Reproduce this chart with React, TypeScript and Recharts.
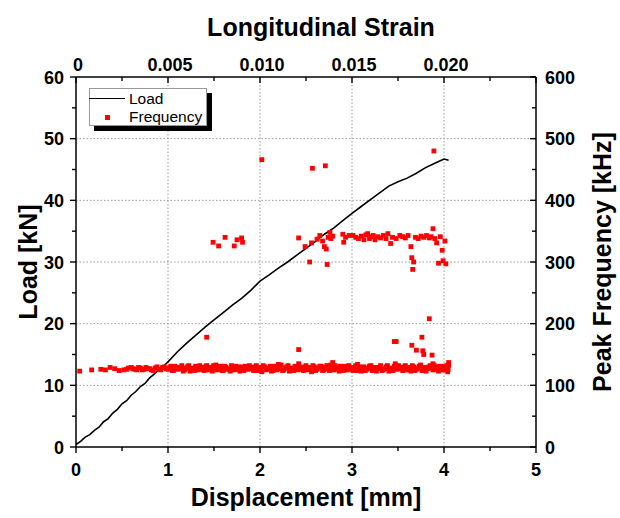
import React from 'react';
import { ComposedChart, Line, Scatter, XAxis, YAxis, ReferenceLine } from 'recharts';

// load curve: displacement [mm] vs load [kN]
const loadCurve: [number, number][] = [
  [0.0, 0.4], [0.05, 0.9], [0.1, 1.6], [0.15, 2.0], [0.2, 2.7], [0.25, 3.2], [0.3, 4.1],
  [0.35, 4.6], [0.4, 5.5], [0.45, 6.1], [0.5, 7.0], [0.55, 7.5], [0.6, 8.4], [0.65, 9.0],
  [0.7, 9.8], [0.75, 10.3], [0.8, 11.2], [0.85, 11.8], [0.9, 12.6], [0.95, 13.1], [1.0, 13.8],
  [1.1, 15.4], [1.2, 16.8], [1.3, 18.1], [1.4, 19.4], [1.5, 20.6], [1.6, 21.8], [1.7, 23.0],
  [1.8, 24.1], [1.9, 25.4], [2.0, 26.9], [2.1, 27.9], [2.2, 29.0], [2.3, 30.0], [2.4, 31.1],
  [2.5, 32.2], [2.6, 33.3], [2.7, 34.5], [2.8, 35.5], [2.9, 36.7], [3.0, 37.9], [3.1, 39.0],
  [3.2, 40.1], [3.3, 41.2], [3.4, 42.3], [3.5, 43.0], [3.6, 43.6], [3.7, 44.4], [3.8, 45.3],
  [3.9, 46.0], [4.0, 46.7], [4.05, 46.5],
];

// acoustic emission peak frequency [kHz]
const freqEarly: [number, number][] = [
  [0.04, 123], [0.17, 125], [0.27, 126], [0.32, 125], [0.37, 129], [0.42, 127], [0.47, 124],
  [0.52, 125], [0.57, 128], [0.62, 127], [0.66, 125], [0.7, 128], [0.74, 126], [0.78, 127],
  [0.82, 125], [0.86, 128], [0.9, 126], [0.94, 129], [0.98, 127],
  [0.55, 126], [0.6, 129], [0.64, 126], [0.68, 129], [0.72, 125], [0.76, 129], [0.8, 127],
  [0.84, 124], [0.88, 130], [0.92, 125], [0.96, 130],
];

const freqLowBand: [number, number][] = [
  [1.0, 126], [1.03, 131], [1.06, 124], [1.09, 129], [1.12, 127], [1.15, 132], [1.18, 125], [1.21, 130], [1.24, 123], [1.27, 128],
  [1.3, 131], [1.33, 125], [1.36, 129], [1.39, 124], [1.42, 132], [1.45, 127], [1.48, 123], [1.51, 130], [1.54, 126], [1.57, 131],
  [1.6, 124], [1.63, 129], [1.66, 127], [1.69, 132], [1.72, 125], [1.75, 130], [1.78, 123], [1.81, 128], [1.84, 131], [1.87, 126],
  [1.9, 129], [1.93, 124], [1.96, 132], [1.99, 127], [2.02, 122], [2.05, 130], [2.08, 126], [2.11, 131], [2.14, 124], [2.17, 129],
  [2.2, 127], [2.23, 133], [2.26, 125], [2.29, 130], [2.32, 123], [2.35, 128], [2.38, 131], [2.41, 125], [2.44, 129], [2.47, 124],
  [2.5, 132], [2.53, 127], [2.56, 122], [2.59, 130], [2.62, 126], [2.65, 131], [2.68, 124], [2.71, 129], [2.74, 127], [2.77, 133],
  [2.8, 125], [2.83, 130], [2.86, 123], [2.89, 128], [2.92, 131], [2.95, 125], [2.98, 129], [3.01, 124], [3.04, 132], [3.07, 127],
  [3.1, 123], [3.13, 130], [3.16, 126], [3.19, 131], [3.22, 124], [3.25, 129], [3.28, 127], [3.31, 132], [3.34, 125], [3.37, 130],
  [3.4, 123], [3.43, 128], [3.46, 131], [3.49, 126], [3.52, 129], [3.55, 124], [3.58, 132], [3.61, 127], [3.64, 123], [3.67, 130],
  [3.7, 126], [3.73, 131], [3.76, 124], [3.79, 129], [3.82, 127], [3.85, 132], [3.88, 125], [3.91, 130], [3.94, 123], [3.97, 128],
  [4.0, 131], [4.02, 125], [4.04, 129], [4.05, 133],
  [1.52, 133], [2.2, 134], [2.42, 135], [2.79, 137], [3.06, 134], [3.47, 135], [3.88, 135], [4.05, 137], [4.04, 122],
];

const freqLowBand2: [number, number][] = [
  [1.015, 128], [1.045, 124], [1.075, 131], [1.105, 126], [1.135, 129], [1.165, 123], [1.195, 128], [1.225, 132], [1.255, 126], [1.285, 124],
  [1.315, 128], [1.345, 132], [1.375, 126], [1.405, 130], [1.435, 125], [1.465, 129], [1.495, 132], [1.525, 125], [1.555, 129], [1.585, 124],
  [1.615, 131], [1.645, 126], [1.675, 123], [1.705, 128], [1.735, 131], [1.765, 126], [1.795, 130], [1.825, 124], [1.855, 128], [1.885, 132],
  [1.915, 127], [1.945, 130], [1.975, 124], [2.005, 129], [2.035, 132], [2.065, 125], [2.095, 128], [2.125, 123], [2.155, 131], [2.185, 125],
  [2.215, 130], [2.245, 124], [2.275, 128], [2.305, 132], [2.335, 126], [2.365, 124], [2.395, 127], [2.425, 131], [2.455, 126], [2.485, 130],
  [2.515, 125], [2.545, 129], [2.575, 132], [2.605, 124], [2.635, 128], [2.665, 131], [2.695, 125], [2.725, 132], [2.755, 124], [2.785, 128],
  [2.815, 132], [2.845, 126], [2.875, 131], [2.905, 124], [2.935, 127], [2.965, 132], [2.995, 126], [3.025, 129], [3.055, 124], [3.085, 130],
  [3.115, 127], [3.145, 124], [3.175, 128], [3.205, 132], [3.235, 126], [3.265, 123], [3.295, 129], [3.325, 124], [3.355, 127], [3.385, 132],
  [3.415, 126], [3.445, 124], [3.475, 128], [3.505, 132], [3.535, 127], [3.565, 130], [3.595, 125], [3.625, 129], [3.655, 132], [3.685, 124],
  [3.715, 128], [3.745, 133], [3.775, 127], [3.805, 123], [3.835, 130], [3.865, 128], [3.895, 132], [3.925, 126], [3.955, 131], [3.985, 125],
  [4.01, 128], [4.03, 132], [4.045, 126],
];

const freqUpperBand: [number, number][] = [
  [1.49, 332], [1.55, 326], [1.62, 340], [1.72, 326], [1.75, 336], [1.8, 339], [1.81, 332],
  [2.42, 339], [2.49, 325], [2.54, 300], [2.56, 331], [2.62, 337], [2.65, 343], [2.68, 334],
  [2.7, 325], [2.72, 321], [2.73, 296], [2.74, 340], [2.76, 348], [2.77, 338], [2.79, 342],
  [2.9, 345], [2.91, 332], [2.93, 340], [2.97, 343], [3.01, 343], [3.04, 340], [3.07, 338],
  [3.1, 342], [3.13, 336], [3.15, 344], [3.17, 346], [3.19, 338], [3.21, 341], [3.23, 343],
  [3.25, 336], [3.28, 341], [3.31, 339], [3.34, 343], [3.37, 338], [3.39, 346], [3.42, 330],
  [3.44, 340], [3.48, 338], [3.52, 343], [3.55, 341], [3.58, 339], [3.61, 343], [3.64, 325],
  [3.65, 307], [3.67, 300], [3.66, 288], [3.69, 340], [3.72, 338], [3.75, 342], [3.78, 340],
  [3.81, 343], [3.84, 339], [3.88, 354], [3.86, 341], [3.9, 338], [3.92, 331], [3.94, 298],
  [3.96, 341], [3.98, 319], [3.99, 302], [4.01, 334], [4.02, 297],
];

const freqOutliers: [number, number][] = [
  [2.02, 466], [2.57, 452], [2.71, 456], [3.89, 480],
  [1.42, 178], [2.42, 158], [3.46, 171], [3.48, 171], [3.65, 165], [3.7, 157],
  [3.76, 178], [3.77, 156], [3.78, 150], [3.84, 208], [3.87, 149],
];

const dispTicks = [0, 0.5, 1, 1.5, 2, 2.5, 3, 3.5, 4, 4.5, 5];
const strainLabels = ['0', '0.005', '0.010', '0.015', '0.020'];
const loadTicks = [0, 5, 10, 15, 20, 25, 30, 35, 40, 45, 50, 55, 60];
const freqTicks = [0, 50, 100, 150, 200, 250, 300, 350, 400, 450, 500, 550, 600];
const gridX = [1, 2, 3, 4];
const gridY = [10, 20, 30, 40, 50];

const loadData = loadCurve.map(([x, load]) => ({ x, load }));
const freqData = [...freqEarly, ...freqLowBand, ...freqLowBand2, ...freqUpperBand, ...freqOutliers].map(
  ([x, f]) => ({ x, f }),
);

const FONT = '"Liberation Sans", Arial, sans-serif';
const tickText = { fontFamily: FONT, fontWeight: 'bold' as const, fontSize: 18, fill: '#000' };
const titleText = { fontFamily: FONT, fontWeight: 'bold' as const, fontSize: 25, fill: '#000' };

const BottomTick = (props: any) => {
  const { x, y, payload } = props;
  const major = Number.isInteger(payload.value);
  return (
    <g>
      <path d={`M${x},${y}V${y + (major ? 6 : 4)}`} stroke="#000" strokeWidth={1.4} fill="none" />
      {major && (
        <text x={x} y={y + 29} textAnchor="middle" style={tickText}>
          {payload.value}
        </text>
      )}
    </g>
  );
};

const TopTick = (props: any) => {
  const { x, y, payload } = props;
  const major = Number.isInteger(payload.value);
  const label = major ? strainLabels[payload.value] : undefined;
  return (
    <g>
      <path d={`M${x},${y}V${y + (major ? 6 : 4)}`} stroke="#000" strokeWidth={1.4} fill="none" />
      {label && (
        <text x={x + 2} y={y - 6} textAnchor="middle" style={tickText}>
          {label}
        </text>
      )}
    </g>
  );
};

const LeftTick = (props: any) => {
  const { x, y, payload } = props;
  const major = payload.value % 10 === 0;
  return (
    <g>
      <path d={`M${x - (major ? 6 : 4)},${y}H${x}`} stroke="#000" strokeWidth={1.4} fill="none" />
      {major && (
        <text x={x - 12} y={y + 6.5} textAnchor="end" style={tickText}>
          {payload.value}
        </text>
      )}
    </g>
  );
};

const RightTick = (props: any) => {
  const { x, y, payload } = props;
  const major = payload.value % 100 === 0;
  return (
    <g>
      <path d={`M${x - (major ? 6 : 4)},${y}H${x}`} stroke="#000" strokeWidth={1.4} fill="none" />
      {major && (
        <text x={x + 9} y={y + 6.5} textAnchor="start" style={tickText}>
          {payload.value}
        </text>
      )}
    </g>
  );
};

const Square = (props: any) => {
  const { cx, cy } = props;
  return <rect x={cx - 2.4} y={cy - 2.4} width={4.8} height={4.8} fill="#ff0000" />;
};

const ChartLegend = () => (
  <div
    style={{
      position: 'absolute',
      left: 89,
      top: 88,
      width: 116,
      height: 36,
      background: '#fff',
      border: '1px solid #999',
      boxShadow: '5px 5px 0 #000',
      fontFamily: FONT,
      fontSize: 15.5,
      color: '#000',
    }}
  >
    <div style={{ position: 'absolute', left: -1, top: 9, width: 36, height: 0, borderTop: '1.5px solid #000' }} />
    <div style={{ position: 'absolute', left: 39, top: 0, lineHeight: '19px' }}>Load</div>
    <div style={{ position: 'absolute', left: 15, top: 26, width: 4.8, height: 4.8, background: '#ff0000' }} />
    <div style={{ position: 'absolute', left: 39, top: 18, lineHeight: '19px' }}>Frequency</div>
  </div>
);

const App: React.FC = () => {
  return (
    <div style={{ position: 'absolute', left: 0, top: 0, width: 620, height: 518, background: '#fff' }}>
      <ComposedChart width={620} height={518} margin={{ top: 47, right: 24, left: 16, bottom: 41 }}>
        <XAxis
          xAxisId="bottom"
          dataKey="x"
          type="number"
          domain={[0, 5]}
          ticks={dispTicks}
          height={30}
          tickSize={0}
          tickMargin={0}
          tick={<BottomTick />}
          axisLine={{ stroke: '#000', strokeWidth: 1.5 }}
          tickLine={false}
          interval={0}
          label={{
            content: () => (
              <text x={306} y={506} textAnchor="middle" style={titleText}>
                Displacement [mm]
              </text>
            ),
          }}
        />
        <XAxis
          xAxisId="top"
          dataKey="x"
          orientation="top"
          type="number"
          domain={[0, 5]}
          ticks={dispTicks}
          height={30}
          tickSize={0}
          tickMargin={0}
          tick={<TopTick />}
          axisLine={{ stroke: '#000', strokeWidth: 1.5 }}
          tickLine={false}
          interval={0}
          label={{
            content: () => (
              <text x={321} y={36} textAnchor="middle" style={titleText}>
                Longitudinal Strain
              </text>
            ),
          }}
        />
        <YAxis
          yAxisId="load"
          type="number"
          domain={[0, 60]}
          ticks={loadTicks}
          width={60}
          tickSize={0}
          tickMargin={0}
          tick={<LeftTick />}
          axisLine={{ stroke: '#000', strokeWidth: 1.5 }}
          tickLine={false}
          interval={0}
          label={{
            content: () => (
              <text x={37} y={262} textAnchor="middle" transform="rotate(-90, 37, 262)" style={titleText}>
                Load [kN]
              </text>
            ),
          }}
        />
        <YAxis
          yAxisId="freq"
          orientation="right"
          type="number"
          domain={[0, 600]}
          ticks={freqTicks}
          width={60}
          tickSize={0}
          tickMargin={0}
          tick={<RightTick />}
          axisLine={{ stroke: '#000', strokeWidth: 1.5 }}
          tickLine={false}
          interval={0}
          label={{
            content: () => (
              <text x={611} y={262} textAnchor="middle" transform="rotate(-90, 611, 262)" style={titleText}>
                Peak Frequency [kHz]
              </text>
            ),
          }}
        />
        {gridX.map((v) => (
          <ReferenceLine key={`gx${v}`} x={v} xAxisId="bottom" yAxisId="load" stroke="#999" strokeDasharray="1.5 2" />
        ))}
        {gridY.map((v) => (
          <ReferenceLine key={`gy${v}`} y={v} xAxisId="bottom" yAxisId="load" stroke="#999" strokeDasharray="1.5 2" />
        ))}
        <Scatter
          data={freqData}
          dataKey="f"
          xAxisId="top"
          yAxisId="freq"
          shape={<Square />}
          isAnimationActive={false}
        />
        <Line
          data={loadData}
          dataKey="load"
          xAxisId="bottom"
          yAxisId="load"
          type="linear"
          stroke="#000"
          strokeWidth={1.6}
          dot={false}
          isAnimationActive={false}
        />
      </ComposedChart>
      <ChartLegend />
    </div>
  );
};

export default App;
